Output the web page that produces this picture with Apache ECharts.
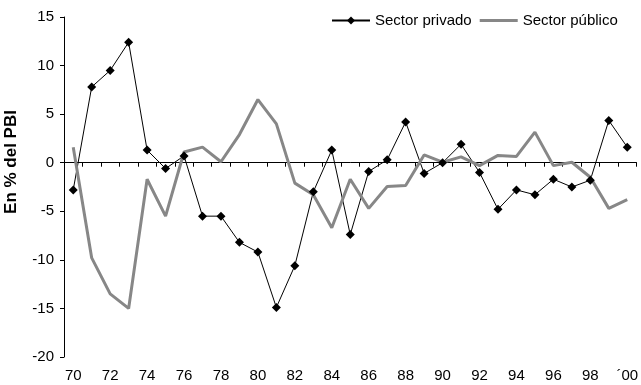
<!DOCTYPE html>
<html>
<head>
<meta charset="utf-8">
<script src="https://cdn.jsdelivr.net/npm/echarts@6/dist/echarts.min.js"></script>
<style>
  html, body { margin: 0; padding: 0; background: #fff; }
  #chart { width: 641px; height: 385px; }
</style>
</head>
<body>
<div id="chart"></div>
<script>
// Years 1970–2000
const years = ['70','71','72','73','74','75','76','77','78','79',
               '80','81','82','83','84','85','86','87','88','89',
               '90','91','92','93','94','95','96','97','98','99','´00'];

// Balance of each sector, in % of GDP
const sectorPrivado = [-2.8, 7.8, 9.5, 12.4, 1.3, -0.6, 0.7, -5.5, -5.5, -8.2,
                       -9.2, -14.9, -10.6, -3.0, 1.3, -7.4, -0.9, 0.3, 4.2, -1.1,
                       0.0, 1.9, -1.0, -4.8, -2.8, -3.3, -1.7, -2.5, -1.8, 4.35, 1.6];
const sectorPublico = [1.6, -9.8, -13.5, -15.0, -1.7, -5.5, 1.1, 1.6, 0.1, 2.9,
                       6.5, 4.0, -2.1, -3.3, -6.7, -1.7, -4.7, -2.45, -2.35, 0.8,
                       0.05, 0.6, -0.3, 0.75, 0.65, 3.15, -0.3, 0.05, -1.5, -4.7, -3.8];

const yTicks = { min: -20, max: 15, step: 5 };

const FONT = "'Liberation Sans', Arial, sans-serif";

const chart = echarts.init(document.getElementById('chart'), null, { renderer: 'canvas' });

chart.setOption({
  animation: false,
  backgroundColor: '#ffffff',
  textStyle: { fontFamily: FONT, color: '#000' },
  grid: { left: 64, top: 17, bottom: 28, width: 578, containLabel: false },
  legend: {
    left: 331,
    top: 13,
    padding: 0,
    itemWidth: 38,
    itemHeight: 10,
    itemGap: 8,
    textStyle: { fontFamily: FONT, fontSize: 15, color: '#000' },
    data: [
      { name: 'Sector privado' },
      // plain thick bar for the line-only series
      { name: 'Sector público', icon: 'path://M0,0H38V3H0Z' }
    ]
  },
  graphic: [{
    type: 'text',
    x: 11,
    y: 162,
    rotation: Math.PI / 2,
    style: {
      text: 'En % del PBI',
      font: 'bold 17px ' + FONT,
      fill: '#000',
      align: 'center',
      verticalAlign: 'middle'
    }
  }],
  xAxis: [
    {
      // bottom axis: year labels only
      type: 'category',
      data: years,
      position: 'bottom',
      boundaryGap: true,
      axisLine: { show: false, onZero: false },
      axisTick: { show: false },
      axisLabel: { interval: 1, margin: 11, fontSize: 15, color: '#000', fontFamily: FONT },
      splitLine: { show: false }
    },
    {
      // axis line drawn through zero with tick marks
      type: 'category',
      data: years,
      position: 'top',
      boundaryGap: true,
      axisLine: { show: true, onZero: true, lineStyle: { color: '#000', width: 1 } },
      axisTick: { show: true, inside: true, length: 4, interval: 0, lineStyle: { color: '#000' } },
      axisLabel: { show: false },
      splitLine: { show: false }
    }
  ],
  yAxis: {
    type: 'value',
    min: yTicks.min,
    max: yTicks.max,
    interval: yTicks.step,
    axisLine: { show: true, onZero: false, lineStyle: { color: '#000', width: 1 } },
    axisTick: { show: true, length: 4, lineStyle: { color: '#000' } },
    axisLabel: { margin: 10, fontSize: 15, color: '#000', fontFamily: FONT },
    splitLine: { show: false }
  },
  series: [
    {
      name: 'Sector privado',
      type: 'line',
      xAxisIndex: 1,
      data: sectorPrivado,
      symbol: 'diamond',
      symbolSize: 9,
      showAllSymbol: true,
      itemStyle: { color: '#000' },
      lineStyle: { color: '#000', width: 1 }
    },
    {
      name: 'Sector público',
      type: 'line',
      xAxisIndex: 1,
      data: sectorPublico,
      symbol: 'none',
      itemStyle: { color: '#878787' },
      lineStyle: { color: '#878787', width: 3 }
    }
  ]
});
</script>
</body>
</html>
